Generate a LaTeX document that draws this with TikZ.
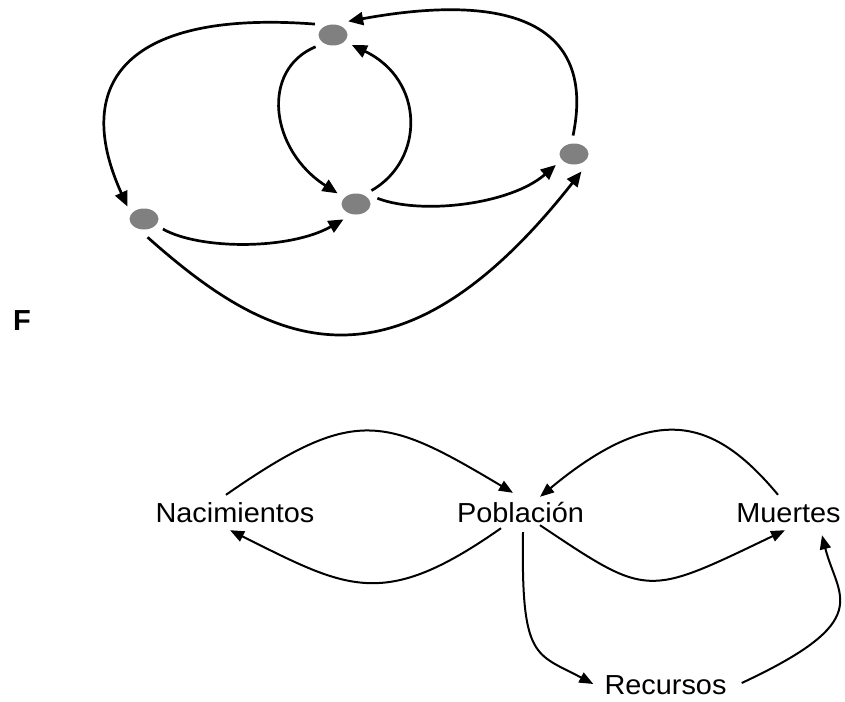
\documentclass[tikz,border=0pt]{standalone}
\usepackage{fontspec}
\setmainfont{Liberation Sans}
\newfontfamily\labelfont[FakeStretch=1.05]{Liberation Sans}
\usetikzlibrary{arrows.meta,shapes.geometric}
\definecolor{dotgray}{RGB}{128,128,128}
\tikzset{
  dot/.style={ellipse, fill=dotgray, minimum width=29pt, minimum height=21pt,
    inner sep=0pt, outer sep=8pt},
  linkA/.style={line width=2.7pt, -{Triangle[length=15pt,width=13pt]}},
  word/.style={font=\labelfont\fontsize{27.5}{30}\selectfont, inner sep=0pt,
    text height=20pt, text depth=0pt, anchor=base},
  linkB/.style={line width=2pt, -{Triangle[length=14pt,width=11pt]}},
}
\begin{document}
\begin{tikzpicture}[x=1pt,y=-1pt]
\useasboundingbox (0,0) rectangle (845,701);

% upper graph: four dots
\node[dot] (A) at (333,35) {};
\node[dot] (B) at (144,219) {};
\node[dot] (C) at (356,204) {};
\node[dot] (D) at (574,154) {};

\draw[linkA] (A.149) .. controls (130,10) and (70,80) .. (B.143);
\draw[linkA] (D.93) .. controls (595,30) and (520,-10) .. (A.42);
\draw[linkA] (A.214) .. controls (260,70) and (270,150) .. (C.150);
\draw[linkA] (C.41) .. controls (425,160) and (425,80) .. (A.332);
\draw[linkA] (B.332) .. controls (200,250) and (290,250) .. (C.231);
\draw[linkA] (C.15) .. controls (420,215) and (510,205) .. (D.211);
\draw[linkA] (B.281) .. controls (261,338) and (390,415) .. (D.293);

% panel letter
\node[font=\bfseries\fontsize{29}{32}\selectfont, inner sep=0pt, anchor=base west] (F) at (13,330) {F};

% lower graph: population loop
\node[word] (N) at (235,522) {Nacimientos};
\node[word] (P) at (520.5,522) {Población};
\node[word] (M) at (788.5,522) {Muertes};
\node[word] (R) at (665.5,694) {Recursos};

\draw[linkB] ([shift={(-9,-7)}]N.north) .. controls (355,405) and (384,416) .. ([shift={(-7.5,-9)}]P.north);
\draw[linkB] ([shift={(-19.5,6)}]P.south) .. controls (383,611) and (348,589) .. ([shift={(-5,8)}]N.south);
\draw[linkB] ([shift={(-10.5,-7)}]M.north) .. controls (714,418) and (655.5,401) .. ([shift={(19.5,-5)}]P.north);
\draw[linkB] ([shift={(19.5,3)}]P.south) .. controls (649,598) and (645.5,597) .. ([shift={(-3.5,8)}]M.south);
\draw[linkB] ([shift={(2.5,10)}]P.south) .. controls (521,660) and (535,653) .. ([shift={(-11,0)}]R.west);
\draw[linkB] ([shift={(15,-1)}]R.east) .. controls (877,620) and (837.6,597) .. ([shift={(33.5,13)}]M.south);
\end{tikzpicture}
\end{document}
